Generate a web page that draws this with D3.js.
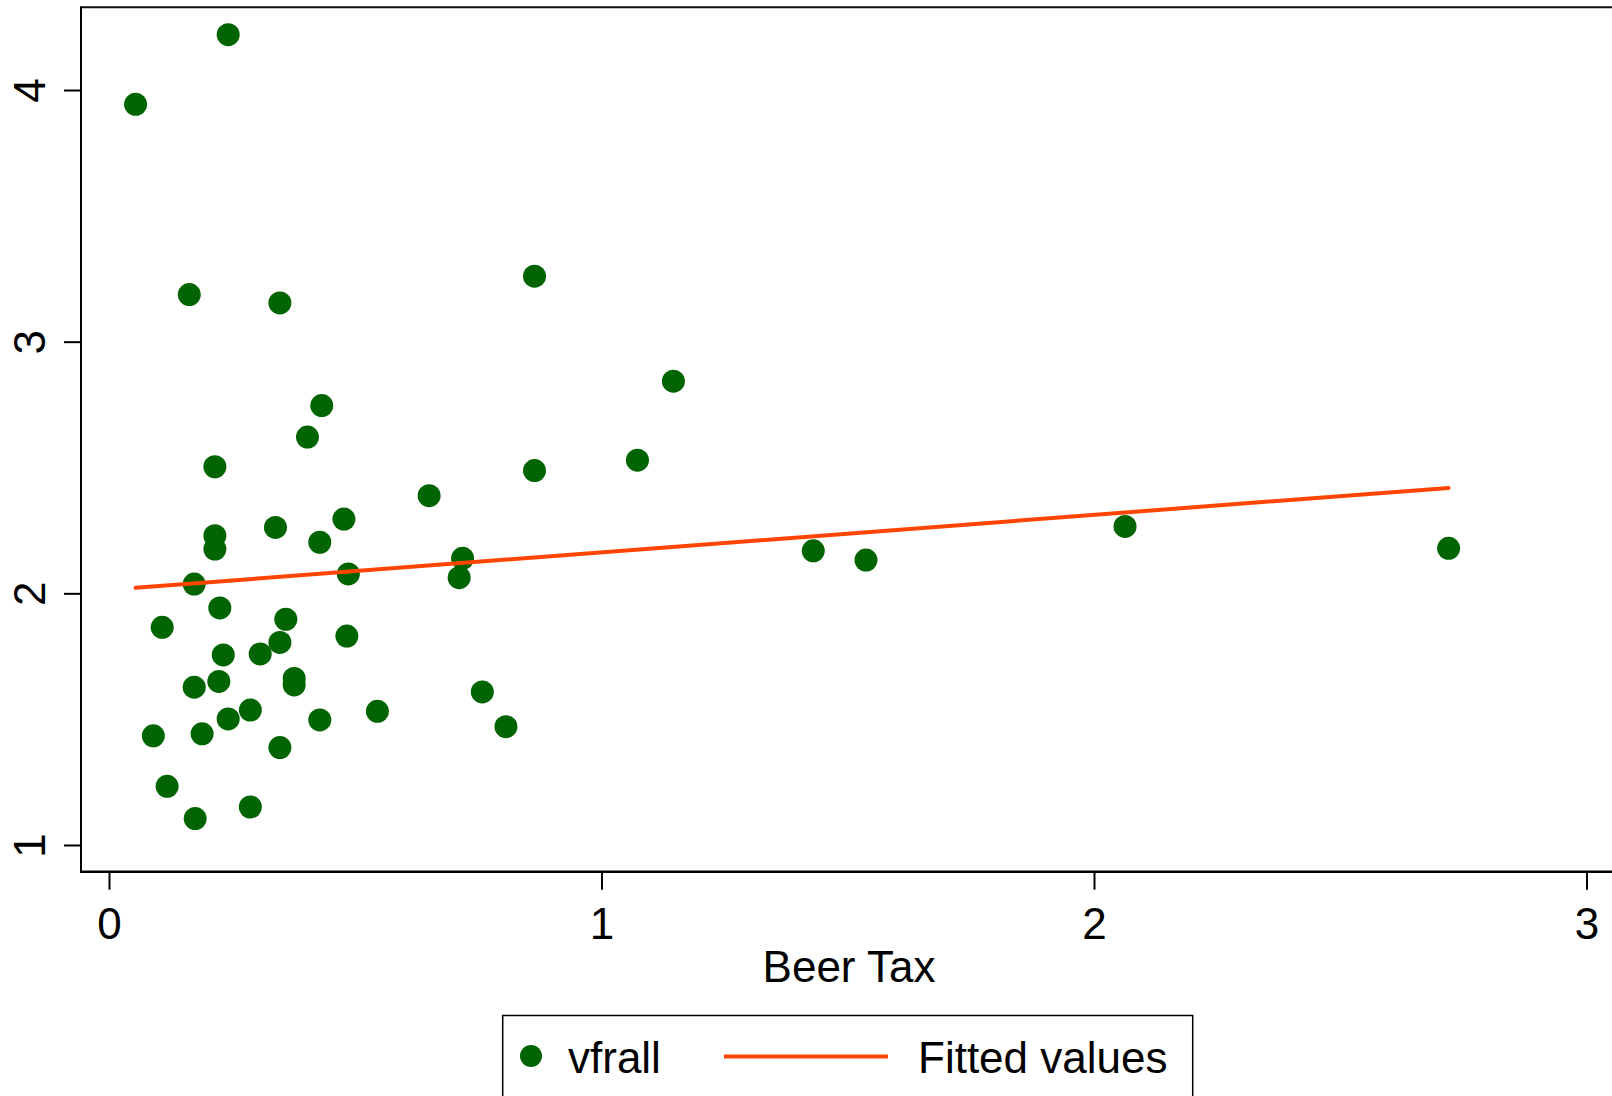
<!DOCTYPE html>
<html>
<head>
<meta charset="utf-8">
<script src="https://cdn.jsdelivr.net/npm/d3@7"></script>
<style>
  body { margin: 0; background: #fff; }
  svg text { font-family: "Liberation Sans", Arial, Helvetica, sans-serif; fill: #000; }
</style>
</head>
<body>
<svg id="chart" width="1612" height="1096"></svg>
<script>
//Beer tax (x) and vehicle fatality rate (y), one pair per state
var beerTax = [0.054, 0.242, 0.163, 0.347, 0.864, 1.146, 0.432, 0.403, 1.073, 0.864,
               0.215, 0.650, 0.477, 0.338, 0.215, 0.428, 0.215, 0.718, 0.486, 0.711,
               0.173, 2.063, 1.430, 1.537, 2.720, 0.108, 0.225, 0.359, 0.483, 0.347,
               0.232, 0.307, 0.223, 0.376, 0.376, 0.173, 0.758, 0.545, 0.287, 0.242,
               0.428, 0.806, 0.090, 0.189, 0.347, 0.118, 0.287, 0.175];
var vfrall = [3.943, 4.220, 3.187, 3.154, 3.260, 2.843, 2.746, 2.621, 2.529, 2.488,
              2.503, 2.388, 2.295, 2.262, 2.229, 2.203, 2.176, 2.139, 2.077, 2.062,
              2.037, 2.266, 2.169, 2.132, 2.179, 1.865, 1.942, 1.897, 1.830, 1.805,
              1.755, 1.759, 1.650, 1.662, 1.636, 1.627, 1.608, 1.531, 1.536, 1.501,
              1.497, 1.470, 1.434, 1.442, 1.387, 1.233, 1.151, 1.105];

//Fitted values line end points
var fitX = [0.054, 2.720];
var fitY = [2.022, 2.419];

var xTicks = [0, 1, 2, 3];
var yTicks = [1, 2, 3, 4];

var legendLabels = ["vfrall", "Fitted values"];

var green = "#006400";
var orange = "#ff4500";

var svg = d3.select("#chart");

//Scales
var xScale = d3.scaleLinear()
    .domain([0, 3])
    .range([109, 1586.5]);

var yScale = d3.scaleLinear()
    .domain([1, 4])
    .range([845, 90]);

//Plot frame
var frame = {left: 81, top: 7.3, bottom: 871.7, right: 1620};

svg.append("line")
    .attr("x1", frame.left).attr("x2", frame.right)
    .attr("y1", frame.top).attr("y2", frame.top)
    .attr("stroke", "#111").attr("stroke-width", 2);

//Y axis
var yAxis = svg.append("g")
    .attr("transform", "translate(" + frame.left + ",0)")
    .call(d3.axisLeft(yScale).tickValues(yTicks).tickFormat(d3.format("d"))
        .tickSize(17).tickSizeOuter(0));
yAxis.select(".domain").remove();
yAxis.selectAll(".tick line").attr("stroke", "#000").attr("stroke-width", 2);
yAxis.selectAll(".tick text")
    .attr("x", null).attr("dy", null)
    .attr("text-anchor", "middle")
    .attr("transform", "translate(-36,0) rotate(-90)")
    .style("font-size", "44px");

//X axis
var xAxis = svg.append("g")
    .attr("transform", "translate(0," + frame.bottom + ")")
    .call(d3.axisBottom(xScale).tickValues(xTicks).tickFormat(d3.format("d"))
        .tickSize(18).tickPadding(18).tickSizeOuter(0));
xAxis.select(".domain").remove();
xAxis.selectAll(".tick line").attr("stroke", "#000").attr("stroke-width", 2);
xAxis.selectAll(".tick text").style("font-size", "44px");

svg.append("line")
    .attr("x1", frame.left).attr("x2", frame.left)
    .attr("y1", frame.top - 1).attr("y2", frame.bottom + 1)
    .attr("stroke", "#000").attr("stroke-width", 2);
svg.append("line")
    .attr("x1", frame.left - 1).attr("x2", frame.right)
    .attr("y1", frame.bottom).attr("y2", frame.bottom)
    .attr("stroke", "#000").attr("stroke-width", 2.5);

//Axis title
svg.append("text")
    .attr("x", 849).attr("y", 981.5)
    .attr("text-anchor", "middle")
    .style("font-size", "44px")
    .text("Beer Tax");

//Points
svg.append("g")
    .selectAll("circle")
    .data(beerTax)
    .enter()
    .append("circle")
    .attr("cx", function(d){ return xScale(d); })
    .attr("cy", function(d, i){ return yScale(vfrall[i]); })
    .attr("r", 11.5)
    .attr("fill", green);

//Fitted line
var line = d3.line()
    .x(function(d){ return xScale(d); })
    .y(function(d, i){ return yScale(fitY[i]); });

svg.append("path")
    .datum(fitX)
    .attr("d", line)
    .attr("fill", "none")
    .attr("stroke", orange)
    .attr("stroke-width", 4)
    .attr("stroke-linecap", "round");

//Legend
var legend = svg.append("g");
legend.append("rect")
    .attr("x", 502.7).attr("y", 1015.5)
    .attr("width", 690).attr("height", 120)
    .attr("fill", "#fff")
    .attr("stroke", "#000").attr("stroke-width", 1.5);
legend.append("circle")
    .attr("cx", 531).attr("cy", 1056)
    .attr("r", 11).attr("fill", green);
legend.append("text")
    .attr("x", 568).attr("y", 1073.3)
    .style("font-size", "44px")
    .text(legendLabels[0]);
legend.append("line")
    .attr("x1", 724).attr("x2", 888)
    .attr("y1", 1056.5).attr("y2", 1056.5)
    .attr("stroke", orange).attr("stroke-width", 4);
legend.append("text")
    .attr("x", 918).attr("y", 1073.3)
    .style("font-size", "44px")
    .text(legendLabels[1]);
</script>
</body>
</html>
